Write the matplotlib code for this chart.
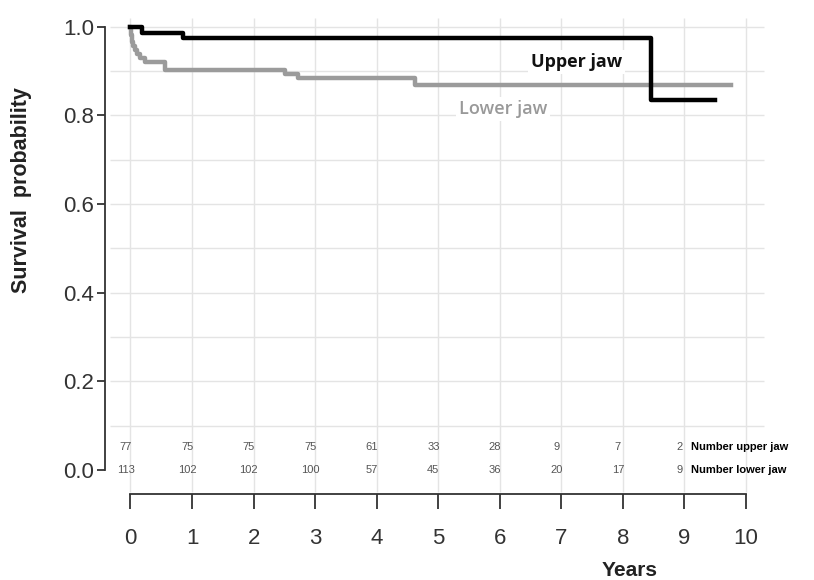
import numpy as np
import matplotlib.pyplot as plt

# Kaplan-Meier steps
upper_t = [0, 0.18, 0.85, 8.45, 9.5]
upper_s = [1.0, 0.987, 0.974, 0.834, 0.834]

lower_t = [0, 0.01, 0.02, 0.04, 0.07, 0.11, 0.16, 0.23, 0.56, 2.51, 2.72, 4.63, 9.75]
lower_s = [1.0, 0.982, 0.965, 0.956, 0.947, 0.938, 0.929, 0.920, 0.903, 0.894, 0.885, 0.869, 0.869]

years = list(range(0, 11))
risk_years = list(range(0, 10))
n_upper = [77, 75, 75, 75, 61, 33, 28, 9, 7, 2]
n_lower = [113, 102, 102, 100, 57, 45, 36, 20, 17, 9]

y_ticks = [0.0, 0.2, 0.4, 0.6, 0.8, 1.0]
grid_y = [0.1, 0.2, 0.3, 0.4, 0.5, 0.6, 0.7, 0.8, 0.9, 1.0]

plt.rcParams['font.family'] = ['Liberation Sans', 'DejaVu Sans']

fig = plt.figure(figsize=(8.14, 5.8), dpi=100)
ax = fig.add_axes([105/814, 110/580, 665/814, 452/580])
ax.set_xlim(-0.414, 10.39)
ax.set_ylim(0, 1.02)

grid_col = '#e4e4e4'
ax.hlines(grid_y, -0.33, 10.3, color=grid_col, lw=1, zorder=0)
ax.vlines(years, -0.05, 1.02, color=grid_col, lw=1, zorder=0, clip_on=False)

ax.step(lower_t, lower_s, where='post', color='#9b9b9b', lw=3.2, zorder=3)
ax.step(upper_t, upper_s, where='post', color='black', lw=3.2, zorder=4)

ax.text(7.25, 0.921, 'Upper jaw', fontsize=13, fontweight='bold', family='Open Sans',
        ha='center', va='center', color='#111111', zorder=2,
        bbox=dict(facecolor='white', edgecolor='none', pad=2))
ax.text(6.05, 0.815, 'Lower jaw', fontsize=13, fontweight='semibold', family='Open Sans',
        ha='center', va='center', color='#999999', zorder=2,
        bbox=dict(facecolor='white', edgecolor='none', pad=2))

# numbers at risk
for x, nu, nl in zip(risk_years, n_upper, n_lower):
    ax.text(x - 0.08, 0.052, str(nu), fontsize=8, color='#555555', ha='center', va='center')
    ax.text(x - 0.08, 0.0, str(nl), fontsize=8, color='#555555', ha='center', va='center')
ax.text(9.1, 0.052, 'Number upper jaw', fontsize=8, fontweight='bold', ha='left', va='center')
ax.text(9.1, 0.0, 'Number lower jaw', fontsize=8, fontweight='bold', ha='left', va='center')

# axes styling
for side in ['top', 'right']:
    ax.spines[side].set_visible(False)
ax.spines['left'].set_bounds(0, 1)
ax.spines['left'].set_linewidth(1.3)
ax.spines['left'].set_color('#333333')
ax.spines['bottom'].set_position(('outward', 17))
ax.spines['bottom'].set_bounds(0, 10)
ax.spines['bottom'].set_linewidth(1.3)
ax.spines['bottom'].set_color('#333333')

ax.set_yticks(y_ticks)
ax.set_yticklabels(['0.0', '0.2', '0.4', '0.6', '0.8', '1.0'])
ax.set_xticks(years)
ax.tick_params(axis='y', length=6, width=1.3, color='#333333', labelsize=16, labelcolor='#333333', pad=2)
ax.tick_params(axis='x', length=11, width=1.3, color='#333333', labelsize=16, labelcolor='#333333', pad=14)

fig.text(22/814, 1 - 190/580, 'Survival  probability', rotation=90, fontsize=15.5,
         fontweight='bold', ha='center', va='center', color='#222222')
fig.text(630/814, 1 - 571/580, 'Years', fontsize=15, fontweight='bold',
         ha='center', va='center', color='#222222')

fig.savefig('out.png', dpi=100)
